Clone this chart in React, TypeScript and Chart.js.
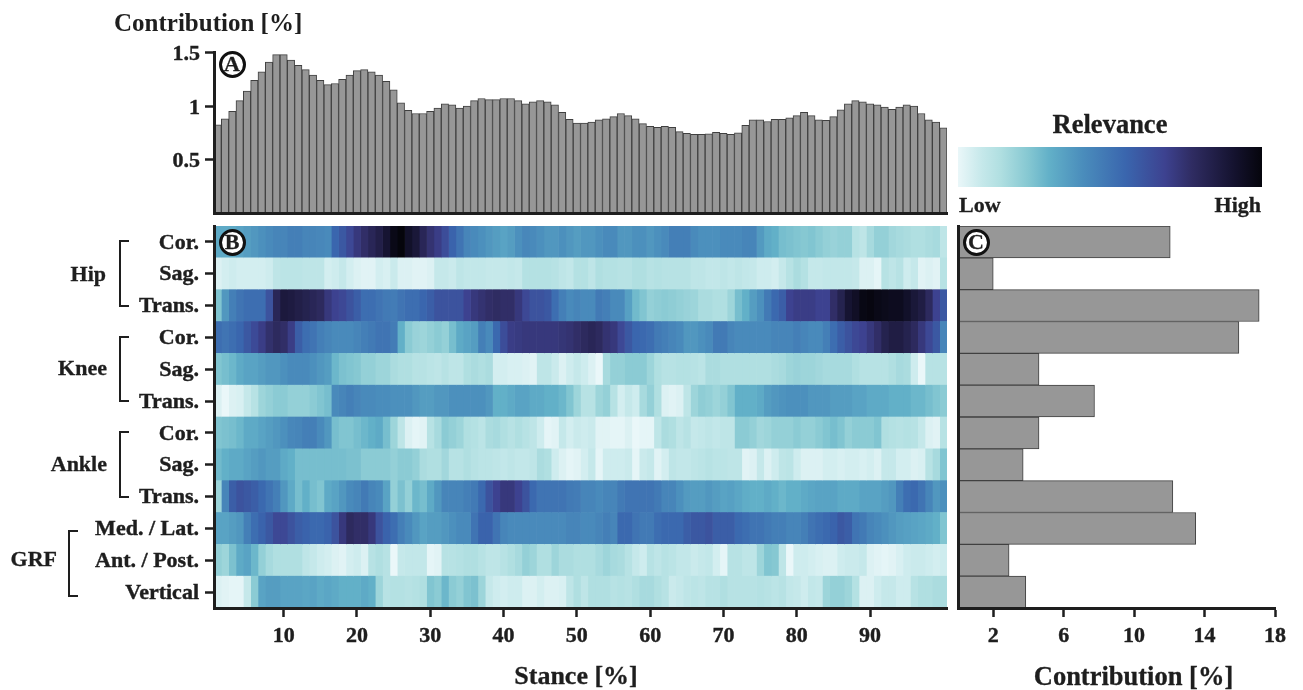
import React, { useEffect, useRef } from "react";
import { Chart, registerables } from "chart.js";

Chart.register(...registerables);

const stance = Array.from({ length: 100 }, (_, i) => String(i + 1));
const stanceTicks = [10, 20, 30, 40, 50, 60, 70, 80, 90];
const meanContribution = [
  0.825, 0.88, 0.95, 1.05, 1.14, 1.24, 1.32, 1.41, 1.48, 1.48,
  1.43, 1.38, 1.34, 1.29, 1.24, 1.2, 1.21, 1.25, 1.29, 1.33,
  1.34, 1.32, 1.29, 1.23, 1.15, 1.03, 0.96, 0.93, 0.93, 0.95,
  0.98, 1.02, 1.01, 0.98, 1.0, 1.05, 1.07, 1.06, 1.06, 1.07,
  1.07, 1.05, 1.02, 1.04, 1.05, 1.04, 1.01, 0.94, 0.875, 0.84,
  0.84, 0.85, 0.87, 0.88, 0.9, 0.93, 0.91, 0.88, 0.835, 0.81,
  0.8, 0.81, 0.8, 0.76, 0.745, 0.735, 0.735, 0.74, 0.755, 0.745,
  0.735, 0.75, 0.82, 0.87, 0.87, 0.855, 0.875, 0.875, 0.89, 0.91,
  0.94, 0.91, 0.87, 0.865, 0.9, 0.965, 1.02, 1.05, 1.04, 1.02,
  1.01, 0.99, 0.97, 0.99, 1.01, 1.0, 0.93, 0.87, 0.85, 0.795,
];

const rowLabels = ["Cor.", "Sag.", "Trans.", "Cor.", "Sag.", "Trans.", "Cor.", "Sag.", "Trans.", "Med. / Lat.", "Ant. / Post.", "Vertical"];
const rowContribution = [12.05, 2.0, 17.1, 15.95, 4.6, 7.75, 4.6, 3.7, 12.2, 13.5, 2.9, 3.85];
const contributionTicks = [2, 6, 10, 14, 18];

const hipCor = [
  32, 32, 32, 34, 36, 38, 40, 42, 44, 44,
  46, 46, 44, 44, 43, 42, 55, 60, 66, 72,
  76, 80, 84, 90, 97, 100, 92, 88, 80, 74,
  70, 64, 56, 50, 44, 42, 40, 38, 36, 34,
  36, 40, 43, 42, 40, 38, 38, 40, 38, 36,
  38, 38, 40, 42, 42, 38, 38, 40, 40, 38,
  40, 42, 46, 46, 46, 42, 40, 40, 40, 42,
  42, 42, 44, 44, 37, 32, 30, 26, 25, 24,
  23, 24, 22, 20, 19, 20, 20, 12, 10, 16,
  20, 20, 17, 16, 15, 14, 14, 15, 16, 10,
];
const hipSag = [
  3, 5, 6, 5, 5, 5, 5, 6, 10, 11,
  11, 11, 10, 10, 10, 5, 6, 8, 5, 3,
  2, 2, 5, 4, 7, 3, 3, 2, 2, 3,
  8, 8, 7, 10, 9, 9, 9, 8, 8, 8,
  9, 8, 13, 13, 13, 13, 12, 10, 9, 13,
  13, 10, 14, 13, 13, 12, 12, 14, 14, 12,
  13, 12, 12, 12, 12, 10, 10, 9, 9, 10,
  9, 10, 9, 8, 6, 6, 5, 8, 12, 15,
  13, 8, 8, 9, 9, 9, 9, 8, 3, 3,
  1, 12, 10, 12, 6, 8, 2, 3, 2, 12,
];
const hipTrans = [
  24, 38, 46, 50, 52, 52, 52, 62, 80, 87,
  86, 84, 82, 80, 78, 72, 68, 66, 62, 58,
  52, 52, 50, 48, 47, 50, 52, 52, 55, 58,
  62, 62, 62, 62, 68, 72, 74, 76, 77, 76,
  76, 72, 66, 62, 62, 60, 52, 46, 42, 44,
  42, 42, 48, 46, 42, 42, 35, 27, 24, 20,
  21, 22, 21, 20, 19, 18, 15, 15, 14, 14,
  18, 26, 30, 36, 40, 48, 54, 58, 68, 70,
  70, 70, 68, 68, 76, 82, 90, 93, 98, 99,
  97, 96, 95, 95, 92, 88, 85, 78, 68, 60,
];
const kneeCor = [
  52, 50, 52, 55, 60, 65, 70, 75, 78, 76,
  70, 58, 52, 50, 46, 44, 42, 42, 42, 44,
  46, 48, 50, 50, 47, 30, 22, 19, 18, 20,
  22, 20, 26, 32, 34, 36, 46, 42, 54, 64,
  70, 71, 72, 72, 72, 72, 72, 73, 74, 76,
  78, 80, 78, 74, 72, 66, 60, 55, 54, 52,
  48, 46, 44, 42, 38, 38, 40, 42, 48, 48,
  44, 42, 42, 42, 42, 42, 44, 44, 44, 46,
  44, 42, 42, 46, 52, 58, 62, 66, 68, 72,
  76, 82, 85, 85, 82, 78, 72, 66, 60, 44,
];
const kneeSag = [
  24, 26, 28, 32, 34, 34, 36, 38, 38, 40,
  42, 42, 42, 40, 38, 36, 28, 25, 24, 23,
  20, 20, 18, 18, 15, 14, 14, 12, 12, 11,
  10, 12, 10, 10, 14, 15, 14, 15, 5, 5,
  4, 4, 3, 2, 10, 10, 7, 3, 6, 8,
  6, 3, 0, 16, 20, 20, 22, 22, 22, 18,
  14, 12, 12, 13, 13, 12, 11, 15, 15, 14,
  14, 14, 14, 14, 14, 14, 15, 16, 18, 19,
  18, 18, 17, 16, 16, 16, 16, 14, 12, 12,
  12, 12, 14, 16, 15, 6, 0, 12, 12, 12,
];
const kneeTrans = [
  3, 0, 3, 4, 8, 12, 18, 20, 22, 22,
  20, 20, 20, 22, 24, 26, 42, 44, 46, 44,
  42, 42, 41, 41, 40, 40, 40, 38, 36, 36,
  38, 38, 40, 40, 40, 40, 40, 38, 30, 30,
  32, 34, 34, 32, 32, 30, 30, 28, 24, 18,
  12, 12, 18, 20, 12, 5, 8, 6, 16, 20,
  14, 3, 2, 3, 10, 18, 21, 20, 18, 20,
  24, 30, 30, 30, 32, 36, 38, 39, 40, 40,
  40, 38, 38, 38, 36, 36, 36, 34, 34, 32,
  32, 32, 30, 30, 30, 28, 28, 26, 24, 22,
];
const ankleCor = [
  24, 25, 26, 28, 32, 32, 34, 36, 38, 40,
  43, 44, 46, 46, 42, 38, 26, 24, 24, 26,
  28, 30, 32, 26, 18, 10, 3, 1, 2, 12,
  16, 22, 20, 18, 14, 13, 11, 15, 16, 14,
  12, 14, 12, 10, 6, 1, 2, 8, 5, 7,
  6, 7, 2, 2, 1, 1, 3, 0, 1, 1,
  10, 15, 14, 10, 12, 8, 9, 10, 9, 10,
  10, 22, 22, 20, 17, 18, 20, 20, 20, 22,
  20, 20, 22, 24, 26, 24, 20, 22, 22, 22,
  24, 14, 13, 12, 13, 12, 8, 3, 2, 12,
];
const ankleSag = [
  27, 30, 32, 32, 34, 36, 38, 36, 36, 32,
  30, 26, 26, 26, 26, 26, 26, 26, 25, 25,
  22, 22, 22, 22, 20, 22, 22, 20, 15, 14,
  14, 17, 12, 12, 14, 12, 11, 11, 10, 9,
  10, 9, 9, 10, 15, 14, 6, 3, 1, 2,
  5, 8, 1, 6, 6, 6, 7, 1, 7, 8,
  2, 5, 10, 9, 9, 10, 11, 12, 11, 11,
  10, 10, 2, 3, 8, 3, 6, 10, 11, 6,
  3, 3, 3, 5, 5, 4, 5, 5, 4, 5,
  3, 8, 8, 5, 5, 3, 4, 12, 16, 24,
];
const ankleTrans = [
  18, 44, 58, 62, 60, 58, 54, 50, 46, 38,
  32, 26, 30, 26, 24, 32, 34, 38, 42, 44,
  48, 44, 42, 34, 20, 25, 20, 28, 26, 32,
  38, 44, 44, 44, 46, 48, 54, 62, 68, 72,
  72, 68, 62, 54, 50, 50, 50, 50, 48, 47,
  44, 44, 42, 44, 44, 48, 50, 50, 50, 50,
  48, 44, 44, 40, 37, 36, 36, 38, 36, 34,
  35, 33, 31, 30, 30, 32, 30, 28, 30, 30,
  32, 33, 34, 34, 34, 32, 32, 32, 34, 34,
  34, 36, 38, 46, 52, 54, 50, 44, 38, 40,
];
const grfMedLat = [
  34, 34, 36, 38, 46, 52, 56, 60, 66, 66,
  62, 58, 56, 54, 54, 56, 62, 72, 78, 76,
  76, 72, 62, 56, 52, 46, 42, 38, 34, 36,
  36, 38, 40, 42, 42, 50, 56, 56, 50, 44,
  42, 42, 42, 42, 42, 42, 42, 42, 44, 44,
  42, 42, 44, 46, 44, 54, 54, 50, 48, 48,
  52, 54, 54, 54, 58, 60, 60, 62, 58, 58,
  58, 54, 52, 50, 50, 48, 46, 46, 44, 44,
  46, 50, 52, 54, 56, 60, 58, 50, 48, 44,
  42, 40, 38, 36, 35, 34, 33, 32, 30, 24,
];
const grfAntPost = [
  20, 18, 25, 32, 34, 28, 20, 16, 14, 14,
  14, 14, 10, 8, 6, 5, 3, 2, 5, 6,
  3, 12, 14, 12, 0, 8, 9, 9, 9, 1,
  2, 12, 12, 13, 14, 14, 12, 10, 10, 12,
  14, 16, 20, 18, 14, 14, 18, 15, 15, 14,
  14, 14, 16, 18, 16, 15, 12, 8, 6, 12,
  10, 12, 11, 9, 9, 7, 8, 9, 5, 1,
  12, 12, 10, 10, 18, 24, 23, 10, 0, 6,
  6, 5, 4, 3, 3, 6, 7, 7, 8, 3,
  2, 1, 2, 4, 6, 7, 7, 6, 5, 6,
];
const grfVertical = [
  3, 2, 1, 1, 8, 22, 34, 36, 36, 34,
  34, 34, 33, 34, 32, 33, 32, 30, 30, 30,
  32, 30, 18, 12, 13, 13, 12, 13, 14, 24,
  22, 28, 22, 20, 24, 25, 18, 8, 6, 5,
  6, 6, 3, 3, 5, 3, 3, 4, 10, 14,
  10, 14, 14, 14, 12, 13, 12, 14, 16, 16,
  14, 12, 7, 8, 10, 11, 10, 12, 12, 14,
  12, 12, 12, 12, 13, 12, 11, 12, 9, 8,
  6, 9, 8, 18, 20, 20, 18, 13, 3, 3,
  6, 8, 8, 6, 6, 12, 14, 14, 15, 15,
];
const relevanceRows = [hipCor, hipSag, hipTrans, kneeCor, kneeSag, kneeTrans, ankleCor, ankleSag, ankleTrans, grfMedLat, grfAntPost, grfVertical];

const colorStops = [0, 8, 14, 23, 30, 41, 55, 68, 77, 91, 100];
const colorHexes = ["#eaf7f9", "#c5e8ea", "#b0dfe1", "#86c8d2", "#62b0c8", "#4a8dbc", "#3a66ae", "#3d4290", "#2f2c62", "#14122e", "#05050c"];

const INK = "#1e1e1e";
const SERIF = '"Liberation Serif", serif';
const BAR_FILL = "#979797";
const BAR_EDGE = "#404040";

function hexToRgb(h: string) {
  return [1, 3, 5].map((i) => parseInt(h.slice(i, i + 2), 16));
}
function relevanceColor(v: number) {
  let k = 0;
  while (k < colorStops.length - 2 && v > colorStops[k + 1]) k++;
  const t = (v - colorStops[k]) / (colorStops[k + 1] - colorStops[k]);
  const a = hexToRgb(colorHexes[k]);
  const b = hexToRgb(colorHexes[k + 1]);
  const c = a.map((x, i) => Math.round(x + (b[i] - x) * t));
  return `rgb(${c[0]},${c[1]},${c[2]})`;
}

const tickFont = { family: SERIF, weight: "bold" as const, size: 22 };
const titleFont = { family: SERIF, weight: "bold" as const, size: 25 };
const axisBorder = { color: INK, width: 3, z: 2 };
const tickGrid = { display: true, drawOnChartArea: false, drawTicks: true, tickLength: 9, tickColor: INK, tickWidth: 2.5 };
const tickText = { color: INK, font: tickFont, textStrokeColor: INK, textStrokeWidth: 0.4 };
const fixedWidth = (w: number) => (s: any) => { s.width = w; };
const fixedHeight = (h: number) => (s: any) => { s.height = h; };

const base = {
  responsive: false,
  animation: false as const,
  events: [] as string[],
};

function drawA(canvas: HTMLCanvasElement) {
  return new Chart(canvas, {
    type: "bar",
    data: {
      labels: stance,
      datasets: [{
        data: meanContribution,
        backgroundColor: BAR_FILL,
        borderColor: BAR_EDGE,
        borderWidth: 1,
        barPercentage: 1,
        categoryPercentage: 1,
      }],
    },
    options: {
      ...base,
      layout: { padding: { left: 114, right: 356, top: 10, bottom: 0 } },
      plugins: {
        legend: { display: false },
        tooltip: { enabled: false },
        title: {
          display: true,
          text: "Contribution [%]",
          align: "start",
          color: INK,
          font: titleFont,
          padding: { top: 0, bottom: 12.5 },
        },
      },
      scales: {
        x: {
          grid: { display: false },
          border: axisBorder,
          ticks: { display: false },
          afterFit: fixedHeight(477),
        },
        y: {
          min: 0,
          max: 1.5,
          grid: tickGrid,
          border: axisBorder,
          afterBuildTicks: (s: any) => { s.ticks = [0.5, 1, 1.5].map((value) => ({ value })); },
          ticks: { ...tickText, padding: 5, labelOffset: 2, callback: (v: any) => String(v) },
          afterFit: fixedWidth(100),
        },
      },
    },
  });
}

function drawB(canvas: HTMLCanvasElement) {
  return new Chart(canvas, {
    type: "bar",
    data: {
      labels: rowLabels,
      datasets: stance.map((_, j) => ({
        data: relevanceRows.map(() => 1),
        backgroundColor: relevanceRows.map((r) => relevanceColor(r[j])),
        borderWidth: 0,
        barPercentage: 1,
        categoryPercentage: 1,
      })),
    },
    options: {
      ...base,
      indexAxis: "y",
      layout: { padding: { left: 0, right: 356, top: 226, bottom: 0 } },
      plugins: { legend: { display: false }, tooltip: { enabled: false } },
      scales: {
        x: {
          stacked: true,
          min: 0,
          max: 100,
          grid: tickGrid,
          border: axisBorder,
          afterBuildTicks: (s: any) => { s.ticks = stanceTicks.map((t) => ({ value: t - 0.5 })); },
          ticks: { ...tickText, padding: 6, maxRotation: 0, autoSkip: false, callback: (v: any) => String(v + 0.5) },
          afterFit: fixedHeight(82),
        },
        y: {
          stacked: true,
          grid: { ...tickGrid, offset: false },
          border: axisBorder,
          ticks: { ...tickText, padding: 6, labelOffset: 1, autoSkip: false },
          afterFit: fixedWidth(214),
        },
      },
    },
  });
}

function drawC(canvas: HTMLCanvasElement) {
  return new Chart(canvas, {
    type: "bar",
    data: {
      labels: rowLabels,
      datasets: [{
        data: rowContribution,
        backgroundColor: BAR_FILL,
        borderColor: BAR_EDGE,
        borderWidth: 1,
        barPercentage: 1,
        categoryPercentage: 1,
      }],
    },
    options: {
      ...base,
      indexAxis: "y",
      layout: { padding: { left: 958, right: 28, top: 226, bottom: 0 } },
      plugins: { legend: { display: false }, tooltip: { enabled: false } },
      scales: {
        x: {
          min: 0,
          max: 18,
          grid: tickGrid,
          border: axisBorder,
          afterBuildTicks: (s: any) => { s.ticks = contributionTicks.map((value) => ({ value })); },
          ticks: { ...tickText, padding: 6, maxRotation: 0, autoSkip: false },
          afterFit: fixedHeight(82),
        },
        y: {
          grid: { display: false },
          border: axisBorder,
          ticks: { display: false },
          afterFit: fixedWidth(0),
        },
      },
    },
  });
}

const textBase: React.CSSProperties = {
  position: "absolute",
  fontFamily: SERIF,
  fontWeight: "bold",
  color: INK,
  whiteSpace: "nowrap",
  lineHeight: "1",
  WebkitTextStroke: `0.3px ${INK}`,
};

function Label({ text, x, y, size = 22, align = "left" }: { text: string; x: number; y: number; size?: number; align?: "left" | "right" | "center" }) {
  const tx = align === "left" ? "0" : align === "right" ? "-100%" : "-50%";
  return <div style={{ ...textBase, left: x, top: y, fontSize: size, transform: `translate(${tx}, -50%)` }}>{text}</div>;
}

function Badge({ text, x, y }: { text: string; x: number; y: number }) {
  return (
    <div style={{
      ...textBase, left: x - 13.5, top: y - 13.5, width: 27, height: 27, boxSizing: "border-box",
      border: "3px solid #111", borderRadius: "50%", background: "#fff", display: "flex",
      alignItems: "center", justifyContent: "center", fontSize: 22,
    }}>{text}</div>
  );
}

function Bracket({ x, top, bottom }: { x: number; top: number; bottom: number }) {
  return (
    <div style={{
      position: "absolute", left: x, top, width: 10, height: bottom - top, boxSizing: "border-box",
      borderLeft: `2.5px solid ${INK}`, borderTop: `2.5px solid ${INK}`, borderBottom: `2.5px solid ${INK}`,
    }} />
  );
}

const layer: React.CSSProperties = { position: "absolute", left: 0, top: 0 };

export default function App() {
  const a = useRef<HTMLCanvasElement>(null);
  const b = useRef<HTMLCanvasElement>(null);
  const c = useRef<HTMLCanvasElement>(null);
  useEffect(() => {
    const charts = [drawA(a.current!), drawB(b.current!), drawC(c.current!)];
    return () => charts.forEach((ch) => ch.destroy());
  }, []);
  const gradient = `linear-gradient(to right, ${colorHexes.map((h, i) => `${h} ${colorStops[i]}%`).join(", ")})`;
  return (
    <div style={{ position: "fixed", left: 0, top: 0, width: 1303, height: 690, background: "#fff", overflow: "hidden" }}>
      <canvas ref={a} width={1303} height={690} style={layer} />
      <canvas ref={b} width={1303} height={690} style={layer} />
      <canvas ref={c} width={1303} height={690} style={layer} />

      <Bracket x={119} top={240} bottom={307} />
      <Bracket x={119} top={336} bottom={402} />
      <Bracket x={119} top={431} bottom={498} />
      <Bracket x={68} top={530} bottom={597} />
      <Label text="Hip" x={106} y={274} align="right" />
      <Label text="Knee" x={107} y={368} align="right" />
      <Label text="Ankle" x={107} y={464} align="right" />
      <Label text="GRF" x={57} y={559} align="right" />

      <Badge text="A" x={232} y={64} />
      <Badge text="B" x={232} y={242} />
      <Badge text="C" x={976} y={242} />

      <div style={{ position: "absolute", left: 958, top: 147, width: 304, height: 40, background: gradient }} />
      <Label text="Relevance" x={1110} y={124} size={26.5} align="center" />
      <Label text="Low" x={959} y={205} />
      <Label text="High" x={1261} y={205} align="right" />
      <Label text="Stance [%]" x={576} y={676} size={26} align="center" />
      <Label text="Contribution [%]" x={1133.5} y={676} size={26.5} align="center" />
    </div>
  );
}
